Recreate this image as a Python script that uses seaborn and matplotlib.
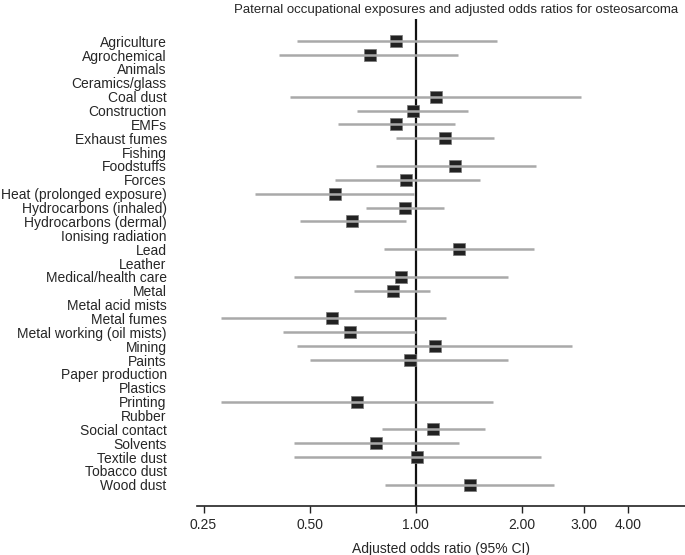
import numpy as np
import pandas as pd
import matplotlib
matplotlib.use('Agg')
import matplotlib.pyplot as plt
import seaborn as sns
from matplotlib.ticker import FixedLocator, NullLocator

# Exposure categories (top to bottom)
EXPOSURES = [
    "Agriculture", "Agrochemical", "Animals", "Ceramics/glass", "Coal dust",
    "Construction", "EMFs", "Exhaust fumes", "Fishing", "Foodstuffs", "Forces",
    "Heat (prolonged exposure)", "Hydrocarbons (inhaled)", "Hydrocarbons (dermal)",
    "Ionising radiation", "Lead", "Leather", "Medical/health care", "Metal",
    "Metal acid mists", "Metal fumes", "Metal working (oil mists)", "Mining",
    "Paints", "Paper production", "Plastics", "Printing", "Rubber",
    "Social contact", "Solvents", "Textile dust", "Tobacco dust", "Wood dust",
]

nan = np.nan
# adjusted odds ratios, with 95% CI (nan = not estimated)
odds_ratio = [0.88, 0.74, nan, nan, 1.14, 0.98, 0.88, 1.21, nan, 1.29, 0.94,
              0.59, 0.93, 0.66, nan, 1.33, nan, 0.91, 0.86, nan, 0.58, 0.65,
              1.13, 0.96, nan, nan, 0.68, nan, 1.12, 0.77, 1.01, nan, 1.42]
ci_low = [0.46, 0.41, nan, nan, 0.44, 0.68, 0.60, 0.88, nan, 0.77, 0.59,
          0.35, 0.72, 0.47, nan, 0.81, nan, 0.45, 0.67, nan, 0.28, 0.42,
          0.46, 0.50, nan, nan, 0.28, nan, 0.80, 0.45, 0.45, nan, 0.82]
ci_high = [1.70, 1.32, nan, nan, 2.94, 1.41, 1.29, 1.67, nan, 2.19, 1.52,
           0.99, 1.20, 0.94, nan, 2.17, nan, 1.82, 1.10, nan, 1.22, 1.00,
           2.78, 1.83, nan, nan, 1.65, nan, 1.57, 1.33, 2.26, nan, 2.46]

XTICKS = [0.25, 0.5, 1.0, 2.0, 3.0, 4.0]

df = pd.DataFrame({
    "exposure": EXPOSURES,
    "pos": np.arange(len(EXPOSURES)),
    "or": odds_ratio,
    "lo": ci_low,
    "hi": ci_high,
})

sns.set_style("white")
plt.rcParams['font.family'] = ['Liberation Sans', 'DejaVu Sans']

fig = plt.figure(figsize=(6.85, 5.55), dpi=100)
ax = fig.add_axes([0.288, 0.089, 0.712, 0.876])

ax.set_xscale('log')
est = df.dropna()

# reference line at OR = 1
ax.axvline(1.0, color='#111111', lw=1.6, zorder=1)

# point estimates as squares
sns.scatterplot(data=est, x="or", y="pos", marker='s', s=78, color='#222222',
                edgecolor='#777777', linewidth=0.5, ax=ax, zorder=2, legend=False)

# confidence intervals drawn over the squares
ax.hlines(est["pos"], est["lo"], est["hi"], color='#a9a9a9', lw=1.8, zorder=3)

ax.set_xlim(0.24, 5.8)
ax.set_ylim(len(EXPOSURES) - 1 + 1.5, -1.57)

ax.xaxis.set_major_locator(FixedLocator(XTICKS))
ax.xaxis.set_minor_locator(NullLocator())
ax.set_xticklabels([f"{t:.2f}" for t in XTICKS])
ax.set_yticks(df["pos"])
ax.set_yticklabels(EXPOSURES)

ax.tick_params(axis='x', direction='out', length=5, width=1, color='#222222',
               labelsize=10, pad=4, bottom=True)
ax.tick_params(axis='y', length=0, labelsize=10, pad=22)

for side in ['top', 'right', 'left']:
    ax.spines[side].set_visible(False)
ax.spines['bottom'].set_color('#222222')
ax.spines['bottom'].set_linewidth(1.2)

ax.set_xlabel("Adjusted odds ratio (95% CI)", fontsize=10, labelpad=7)
ax.set_ylabel("")
fig.text(0.666, 0.982, "Paternal occupational exposures and adjusted odds ratios for osteosarcoma",
         ha='center', va='center', fontsize=9.5)

fig.savefig("out.png", dpi=100)
